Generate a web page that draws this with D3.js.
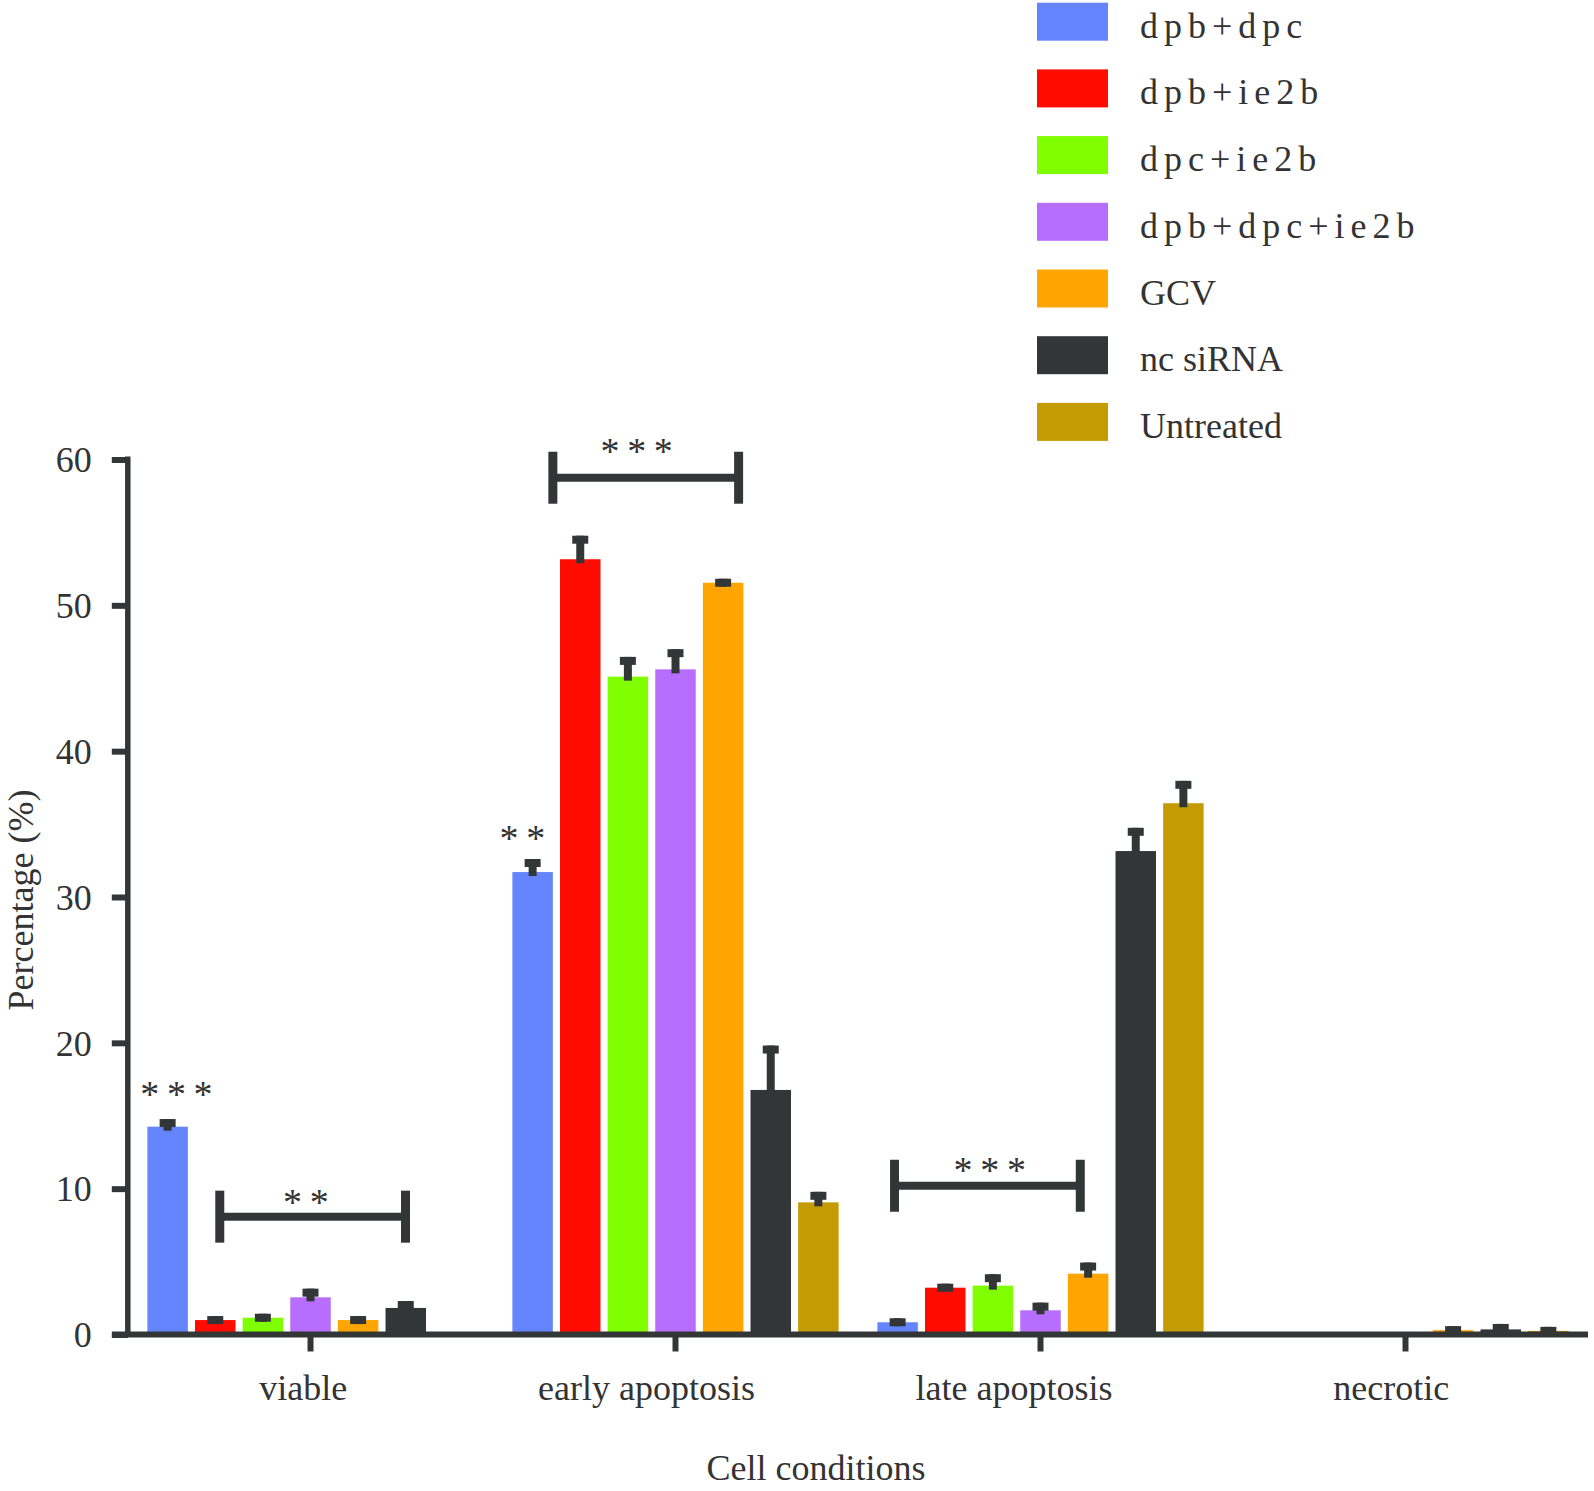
<!DOCTYPE html>
<html>
<head>
<meta charset="utf-8">
<script src="https://cdn.jsdelivr.net/npm/d3@7"></script>
<style>
  html, body { margin: 0; padding: 0; background: #fff; }
  svg { display: block; }
  text { font-family: "Liberation Serif", "Times New Roman", serif; fill: #333; }
</style>
</head>
<body>
<svg id="chart" width="1594" height="1491"></svg>
<script>
// ---------------- DATA ----------------
const categories = ["viable", "early apoptosis", "late apoptosis", "necrotic"];
const series = ["dpb+dpc", "dpb+ie2b", "dpc+ie2b", "dpb+dpc+ie2b", "GCV", "nc siRNA", "Untreated"];
const colors = ["#6585FF", "#FF0B00", "#80FF00", "#B76EFF", "#FFA500", "#333637", "#C49B03"];

// values per series, one entry per category
const valDpbDpc     = [14.25, 31.71, 0.84, 0];
const valDpbIe2b    = [0.99, 53.16, 3.21, 0];
const valDpcIe2b    = [1.15, 45.11, 3.35, 0];
const valDpbDpcIe2b = [2.55, 45.61, 1.66, 0];
const valGCV        = [0.99, 51.55, 4.17, 0.30];
const valNcSiRNA    = [1.82, 16.77, 33.15, 0.35];
const valUntreated  = [0, 9.06, 36.43, 0.25];

// error (upper) per series, one entry per category
const errDpbDpc     = [0.25, 0.62, 0, 0];
const errDpbIe2b    = [0, 1.34, 0, 0];
const errDpcIe2b    = [0, 1.08, 0.51, 0];
const errDpbDpcIe2b = [0.32, 1.11, 0.25, 0];
const errGCV        = [0, 0, 0.49, 0];
const errNcSiRNA    = [0.2, 2.77, 1.32, 0.1];
const errUntreated  = [0, 0.45, 1.26, 0];

const yTicks = [0, 10, 20, 30, 40, 50, 60];
const yLabel = "Percentage (%)";
const xLabel = "Cell conditions";

// significance brackets: category, from/to bar slot, level (value), label, label slot, label level
const bracketCats   = ["viable", "early apoptosis", "late apoptosis"];
const bracketFrom   = [1.52, 0.85, 0.36];
const bracketTo     = [5.42, 4.75, 4.26];
const bracketLevel  = [8.08, 58.75, 10.2];
const bracketText   = ["* *", "* * *", "* * *"];
const bracketTextAt = [3.32, 2.60, 2.35];
const bracketTextLv = [8.20, 59.70, 10.38];

// single-bar stars
const starCats  = ["viable", "early apoptosis"];
const starText  = ["* * *", "* *"];
const starAt    = [0.60, 0.20];
const starLevel = [15.59, 33.18];

const values = [valDpbDpc, valDpbIe2b, valDpcIe2b, valDpbDpcIe2b, valGCV, valNcSiRNA, valUntreated];
const errors = [errDpbDpc, errDpbIe2b, errDpcIe2b, errDpbDpcIe2b, errGCV, errNcSiRNA, errUntreated];

// ---------------- LAYOUT ----------------
const svg = d3.select("#chart");
const axisColor = "#333637";
const fontSize = 36;
const starSize = 38;
const catLabelShift = [-7.3, -29, -26.5, -14.3];

const y = d3.scaleLinear().domain([0, 60]).range([1334.5, 459.5]);
const x0 = d3.scaleBand().domain(categories).range([128, 1588]).padding(0);
const x1 = d3.scaleBand().domain(series).range([0, x0.bandwidth()])
  .paddingInner(0.15).paddingOuter(0.407);
const color = d3.scaleOrdinal().domain(series).range(colors);
const slot = d3.scaleLinear().domain([0, 7])
  .range([x1(series[0]), x1(series[0]) + 7 * x1.step()]);

const rows = [];
series.forEach((s, si) => categories.forEach((c, ci) => {
  rows.push({ s, c, v: values[si][ci], e: errors[si][ci] });
}));

// bars
const gBars = svg.append("g");
gBars.selectAll("rect").data(rows).enter().append("rect")
  .attr("x", d => x0(d.c) + x1(d.s))
  .attr("width", x1.bandwidth())
  .attr("y", d => y(d.v))
  .attr("height", d => y(0) - y(d.v))
  .attr("fill", d => color(d.s));

// error bars
const eRows = rows.filter(d => d.v > 0);
const gErr = svg.append("g").attr("stroke", axisColor);
gErr.selectAll("line.stem").data(eRows).enter().append("line")
  .attr("class", "stem")
  .attr("x1", d => x0(d.c) + x1(d.s) + x1.bandwidth() / 2)
  .attr("x2", d => x0(d.c) + x1(d.s) + x1.bandwidth() / 2)
  .attr("y1", d => y(d.v))
  .attr("y2", d => y(d.v + d.e))
  .attr("stroke-width", 8)
  .attr("stroke-linecap", "square");
gErr.selectAll("line.cap").data(eRows).enter().append("line")
  .attr("class", "cap")
  .attr("x1", d => x0(d.c) + x1(d.s) + x1.bandwidth() / 2 - 8)
  .attr("x2", d => x0(d.c) + x1(d.s) + x1.bandwidth() / 2 + 8)
  .attr("y1", d => y(d.v + d.e))
  .attr("y2", d => y(d.v + d.e))
  .attr("stroke-width", 8);

// Y axis
const yAxis = d3.axisLeft(y).tickValues(yTicks).tickSize(16).tickPadding(20).tickSizeOuter(0);
const gy = svg.append("g").attr("transform", "translate(127.8,0)").call(yAxis);
gy.select(".domain").remove();
gy.selectAll(".tick line").attr("stroke", axisColor).attr("stroke-width", 6);
gy.selectAll(".tick text").attr("font-family", "Liberation Serif").attr("font-size", fontSize)
  .attr("fill", "#333").attr("dy", "0.34em");
svg.append("line").attr("x1", 127.8).attr("x2", 127.8)
  .attr("y1", y(60) - 3).attr("y2", y(0))
  .attr("stroke", axisColor).attr("stroke-width", 5.5);

// X axis
const xAxis = d3.axisBottom(x0).tickSize(17).tickPadding(23).tickSizeOuter(0);
const gx = svg.append("g").attr("transform", `translate(0,${y(0)})`).call(xAxis);
gx.select(".domain").remove();
gx.selectAll(".tick line").attr("stroke", axisColor).attr("stroke-width", 6);
gx.selectAll(".tick text").attr("font-family", "Liberation Serif").attr("font-size", fontSize)
  .attr("fill", "#333").attr("x", (d, i) => catLabelShift[i]);
svg.append("line").attr("x1", 112).attr("x2", x0.range()[1])
  .attr("y1", y(0)).attr("y2", y(0))
  .attr("stroke", axisColor).attr("stroke-width", 6);

// axis titles
svg.append("text").attr("x", 816).attr("y", 1480).attr("text-anchor", "middle")
  .attr("font-size", fontSize).text(xLabel);
svg.append("text").attr("transform", "translate(33,900) rotate(-90)")
  .attr("text-anchor", "middle").attr("font-size", fontSize).text(yLabel);

// brackets
const gBr = svg.append("g");
bracketCats.forEach((c, i) => {
  const xa = x0(c) + slot(bracketFrom[i]);
  const xb = x0(c) + slot(bracketTo[i]);
  const yy = y(bracketLevel[i]);
  gBr.append("line").attr("x1", xa).attr("x2", xb).attr("y1", yy).attr("y2", yy)
    .attr("stroke", axisColor).attr("stroke-width", 8);
  [xa, xb].forEach(xx => gBr.append("line").attr("x1", xx).attr("x2", xx)
    .attr("y1", yy - 26).attr("y2", yy + 26)
    .attr("stroke", axisColor).attr("stroke-width", 9));
  gBr.append("text").attr("x", x0(c) + slot(bracketTextAt[i])).attr("y", y(bracketTextLv[i]))
    .attr("text-anchor", "middle").attr("font-size", starSize).attr("letter-spacing", -0.9)
    .text(bracketText[i]);
});
starCats.forEach((c, i) => {
  svg.append("text").attr("x", x0(c) + slot(starAt[i])).attr("y", y(starLevel[i]))
    .attr("text-anchor", "middle").attr("font-size", starSize).attr("letter-spacing", -0.9)
    .text(starText[i]);
});

// legend
const gLeg = svg.append("g");
series.forEach((s, i) => {
  const top = 2.7 + i * 66.7;
  gLeg.append("rect").attr("x", 1037).attr("y", top).attr("width", 71).attr("height", 38)
    .attr("fill", color(s));
  const t = gLeg.append("text").attr("x", 1140).attr("y", top + 19 + 16)
    .attr("font-size", fontSize).text(s);
  if (/dp|ie/.test(s)) t.attr("letter-spacing", 6);
});
</script>
</body>
</html>
